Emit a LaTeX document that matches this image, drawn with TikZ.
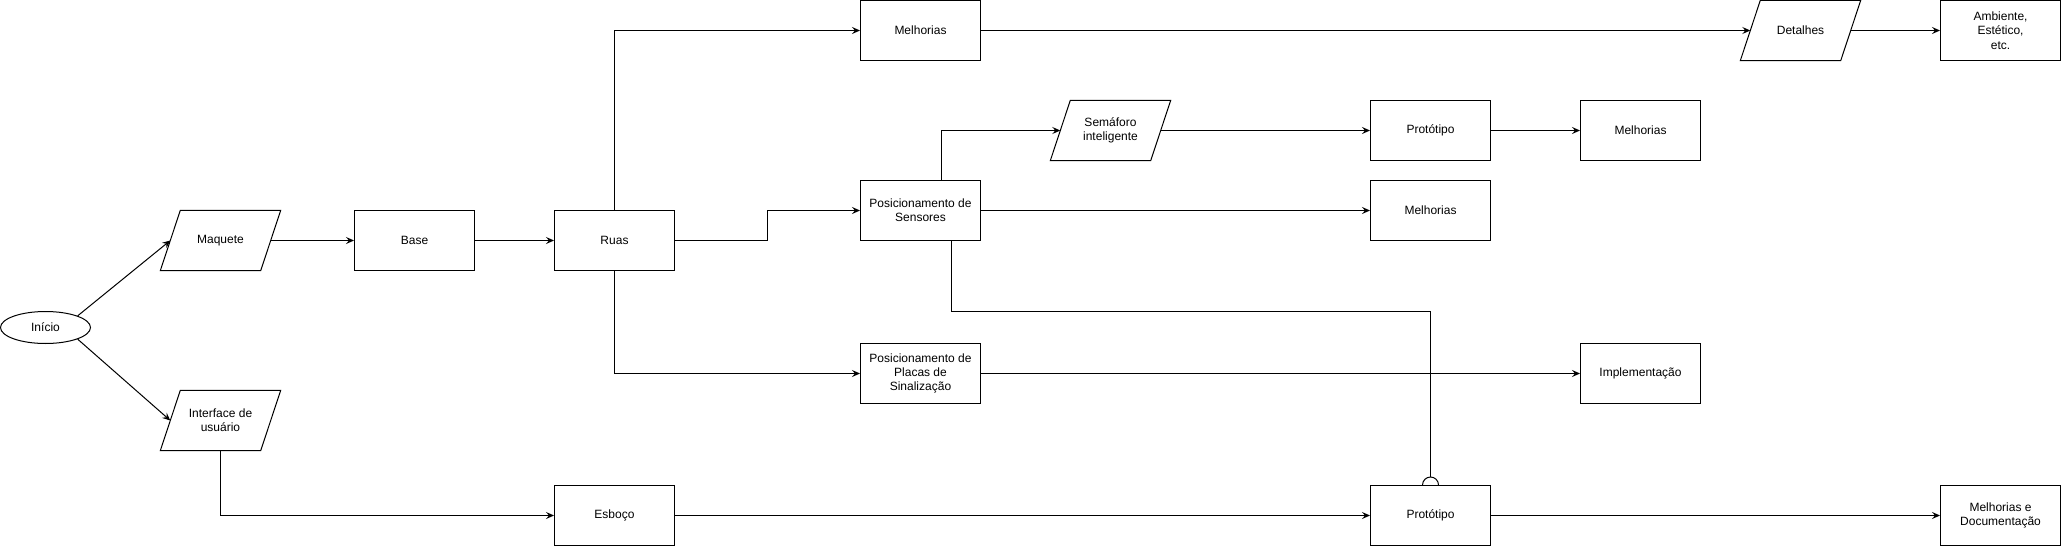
\documentclass[tikz,border=0pt]{standalone}
\usepackage{fontspec}
\setmainfont{Liberation Sans}
\usetikzlibrary{arrows.meta,shapes.geometric,calc}
\begin{document}
\begin{tikzpicture}[x=1pt,y=-1pt,
  every node/.style={font=\fontsize{12pt}{14.4pt}\selectfont, align=center, inner sep=0pt},
  stepbox/.style={draw, line width=1pt, minimum width=120pt, minimum height=60pt},
  parabox/.style={minimum width=120pt, minimum height=60pt},
  conn/.style={line width=1pt, -{Stealth[length=8pt,width=7pt,inset=3pt]}},
  plain/.style={line width=1pt}
]
\useasboundingbox (-0.5,-0.5) rectangle (2061.5,545.5);

% nodes
\node[draw, ellipse, line width=1pt, minimum width=90pt, minimum height=32pt] (ini) at (45,327) {Início};
\node[parabox] (maq) at (220,240) {Maquete};
\node[parabox] (iface) at (220,420) {Interface de\\usuário};
\node[stepbox] (base) at (414,240) {Base};
\node[stepbox] (ruas) at (614,240) {Ruas};
\node[stepbox] (esb) at (614,515) {Esboço};
\node[stepbox] (mel1) at (920,30) {Melhorias};
\node[stepbox] (sens) at (920,210) {Posicionamento de\\Sensores};
\node[stepbox] (plac) at (920,373) {Posicionamento de\\Placas de\\Sinalização};
\node[parabox] (sem) at (1110,130) {Semáforo\\inteligente};
\node[stepbox] (prot1) at (1430,130) {Protótipo};
\node[stepbox] (mel2) at (1430,210) {Melhorias};
\node[stepbox] (prot2) at (1430,515) {Protótipo};
\node[stepbox] (melA) at (1640,130) {Melhorias};
\node[stepbox] (impl) at (1640,373) {Implementação};
\node[parabox] (det) at (1800,30) {Detalhes};
\node[stepbox] (amb) at (2000,30) {Ambiente,\\Estético,\\etc.};
\node[stepbox] (mdoc) at (2000,515) {Melhorias e\\Documentação};

% parallelogram outlines
\foreach \p in {maq,iface,sem,det}{
  \draw[plain] ([xshift=20pt]\p.north west) -- (\p.north east) -- ([xshift=-20pt]\p.south east) -- (\p.south west) -- cycle;
}

% connectors
\draw[conn] (ini.north east) -- ([xshift=10pt]maq.west);
\draw[conn] (ini.south east) -- ([xshift=10pt]iface.west);
\draw[conn] ([xshift=-10pt]maq.east) -- (base.west);
\draw[conn] (base.east) -- (ruas.west);
\draw[conn] (ruas.north) |- (mel1.west);
\draw[conn] (ruas.east) -| ($(ruas.east)!.5!(sens.west)$) |- (sens.west);
\draw[conn] (ruas.south) |- (plac.west);
\draw[conn] (iface.south) |- (esb.west);
\draw[conn] ([xshift=21pt]sens.north) |- ([xshift=10pt]sem.west);
\draw[conn] ([xshift=-10pt]sem.east) -- (prot1.west);
\draw[conn] (prot1.east) -- (melA.west);
\draw[conn] (sens.east) -- (mel2.west);
\draw[conn] (plac.east) -- (impl.west);
\draw[conn] (esb.east) -- (prot2.west);
\draw[conn] (prot2.east) -- (mdoc.west);
\draw[conn] (mel1.east) -- ([xshift=10pt]det.west);
\draw[conn] ([xshift=-10pt]det.east) -- (amb.west);

% sensores -> prototipo with line jump
\coordinate (jmp) at ([yshift=8pt]prot2.north);
\draw[plain] ([xshift=31pt]sens.south) -- ++(0,70) -| (jmp);
\draw[plain] ([xshift=-8pt]prot2.north) .. controls +(0,-4.42) and +(-4.42,0) .. (jmp)
  .. controls +(4.42,0) and +(0,-4.42) .. ([xshift=8pt]prot2.north);
\end{tikzpicture}
\end{document}
